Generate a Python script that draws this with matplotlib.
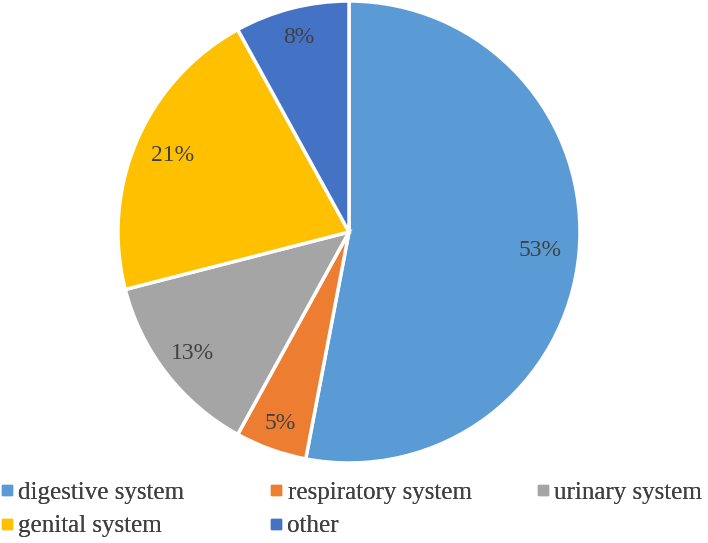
import matplotlib
matplotlib.use("Agg")
import numpy as np
import matplotlib.pyplot as plt
from matplotlib.lines import Line2D

categories = ["digestive system", "respiratory system", "urinary system", "genital system", "other"]
values = [53, 5, 13, 21, 8]
colors = ["#5B9BD5", "#ED7D31", "#A5A5A5", "#FFC000", "#4472C4"]
label_dist = [0.83, 0.88, 0.86, 0.83, 0.87]

plt.rcParams['font.family'] = ['Liberation Serif', 'DejaVu Serif']

W, H = 708, 543
fig = plt.figure(figsize=(W/100, H/100), dpi=100)
cx, cy, r = 349, 232, 231
ax = fig.add_axes([(cx - r)/W, (H - cy - r)/H, 2*r/W, 2*r/H])
wedges, texts, autotexts = ax.pie(values, colors=colors, startangle=90, counterclock=False,
                                  radius=1, autopct=lambda p: f"{p:.0f}%", pctdistance=0.86,
                                  wedgeprops=dict(edgecolor="white", linewidth=2.5),
                                  textprops=dict(color="#404040", fontsize=17,
                                                 family=['Liberation Serif', 'DejaVu Serif']))
for w, t, d in zip(wedges, autotexts, label_dist):
    ang = np.deg2rad((w.theta1 + w.theta2) / 2)
    t.set_position((d * np.cos(ang), d * np.sin(ang)))
ax.set_xlim(-1, 1)
ax.set_ylim(-1, 1)
ax.set_aspect('equal')
ax.axis('off')

def handle(c):
    return Line2D([], [], marker='s', color=c, linestyle='', markersize=7)

cols = [[0, 3], [1, 4], [2]]
xs = [1, 270, 537]
for idx, x in zip(cols, xs):
    leg = fig.legend([handle(colors[i]) for i in idx], [categories[i] for i in idx],
                     loc='upper left', bbox_to_anchor=(x/W, 1 - 481/H), frameon=False,
                     prop=dict(family=['Liberation Serif', 'DejaVu Serif'], size=18),
                     handlelength=0.5, handletextpad=0.2, labelspacing=0.45,
                     borderaxespad=0, borderpad=0, labelcolor="#404040")
    fig.add_artist(leg)

fig.savefig("out.png", dpi=100, facecolor="white")
